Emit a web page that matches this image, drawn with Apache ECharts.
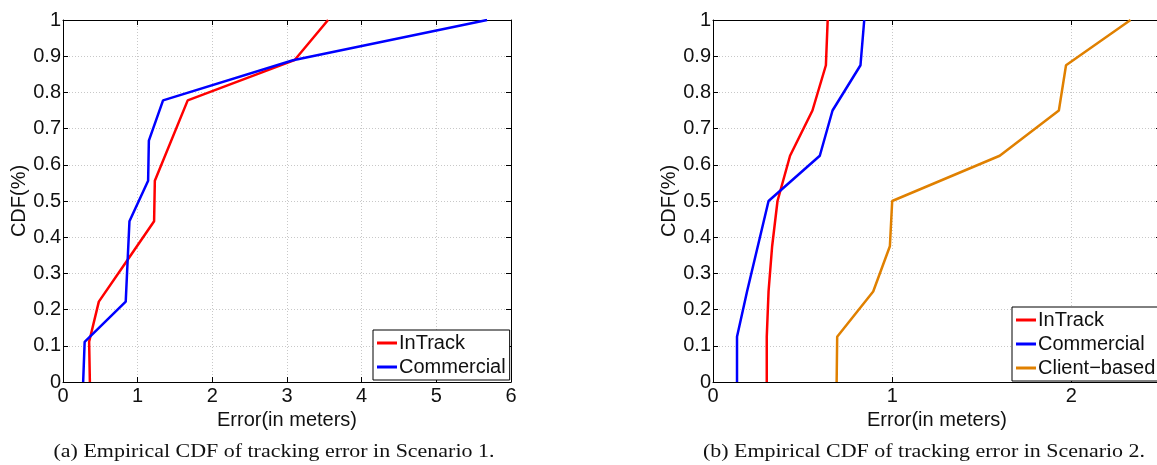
<!DOCTYPE html>
<html>
<head>
<meta charset="utf-8">
<script src="https://cdn.jsdelivr.net/npm/echarts@6/dist/echarts.min.js"></script>
<style>
  html, body { margin: 0; padding: 0; background: #fff; }
  #main { width: 1157px; height: 465px; }
</style>
</head>
<body>
<div id="main"></div>
<script>
// Scenario 1 (9 samples -> steps of 1/9)
const s1InTrackX = [0.36, 0.35, 0.48, 0.85, 1.22, 1.23, 1.67, 3.10, 3.55];
const s1InTrackY = [0, 0.111, 0.222, 0.333, 0.444, 0.556, 0.778, 0.889, 1];
const s1CommercialX = [0.27, 0.29, 0.84, 0.89, 1.14, 1.15, 1.34, 3.08, 5.68];
const s1CommercialY = [0, 0.111, 0.222, 0.444, 0.556, 0.667, 0.778, 0.889, 1];

// Scenario 2 (8 samples -> steps of 1/8)
const s2Y = [0, 0.125, 0.25, 0.375, 0.5, 0.625, 0.75, 0.875, 1];
const s2InTrackX = [0.30, 0.30, 0.31, 0.33, 0.36, 0.43, 0.555, 0.63, 0.64];
const s2CommercialX = [0.134, 0.134, 0.19, 0.25, 0.31, 0.596, 0.667, 0.823, 0.844];
const s2ClientX = [0.69, 0.693, 0.894, 0.987, 1.0, 1.60, 1.93, 1.97, 2.33];

const captions = [
    '(a) Empirical CDF of tracking error in Scenario 1.',
    '(b) Empirical CDF of tracking error in Scenario 2.'
];

const chart = echarts.init(document.querySelector('#main'));

const pairs = (xs, ys) => xs.map((x, i) => [x, ys[i]]);

const font = 'Liberation Sans, Arial, sans-serif';
const serif = 'Liberation Serif, Times New Roman, serif';
const gridLine = { show: true, lineStyle: { color: '#c8c8c8', type: [1, 2], width: 1 } };

function xAx(grid, max, bottom) {
    return {
        type: 'value', gridIndex: grid, min: 0, max: max, interval: 1,
        position: bottom ? 'bottom' : 'top',
        name: bottom ? 'Error(in meters)' : '',
        nameLocation: 'middle', nameGap: 18,
        nameTextStyle: { color: '#111', fontSize: 20, fontFamily: font },
        axisLine: { show: true, onZero: false, lineStyle: { color: '#000', width: 1 } },
        axisTick: { show: true, inside: true, length: 5, lineStyle: { color: '#000' } },
        axisLabel: { show: bottom, color: '#111', fontSize: 20, fontFamily: font, margin: 4,
                     showMaxLabel: max === 6 },
        splitLine: bottom ? gridLine : { show: false }
    };
}

function yAx(grid, left) {
    return {
        type: 'value', gridIndex: grid, min: 0, max: 1, interval: 0.1,
        position: left ? 'left' : 'right',
        name: left ? 'CDF(%)' : '',
        nameLocation: 'middle', nameGap: 32, nameRotate: 90,
        nameTextStyle: { color: '#111', fontSize: 20, fontFamily: font },
        axisLine: { show: true, onZero: false, lineStyle: { color: '#000', width: 1 } },
        axisTick: { show: true, inside: true, length: 5, lineStyle: { color: '#000' } },
        axisLabel: { show: left, color: '#111', fontSize: 20, fontFamily: font, margin: 2 },
        splitLine: left ? gridLine : { show: false }
    };
}

function line(name, data, color, xi, yi) {
    return {
        name: name, type: 'line', data: data, xAxisIndex: xi, yAxisIndex: yi,
        symbol: 'none', color: color, clip: true,
        lineStyle: { color: color, width: 2.5 }
    };
}

function caption(text, cx) {
    return {
        type: 'text', x: cx, y: 452, scaleX: 1.22,
        style: { text: text, fill: '#111', font: '18px ' + serif, textAlign: 'center', textVerticalAlign: 'middle' }
    };
}

const legendBase = {
    orient: 'vertical', backgroundColor: '#fff',
    borderColor: '#000', borderWidth: 1, borderRadius: 0,
    padding: [1, 4, 1, 4], itemGap: 0, itemWidth: 20, itemHeight: 3,
    icon: 'rect',
    textStyle: { color: '#111', fontSize: 20, fontFamily: font, lineHeight: 24, padding: [0, 0, 0, -3] }
};

let option = {
    animation: false,
    backgroundColor: '#fff',
    grid: [
        { left: 63, top: 20, width: 448, height: 362, outerBoundsMode: 'none' },
        { left: 713, top: 20, width: 448, height: 362, outerBoundsMode: 'none' }
    ],
    xAxis: [xAx(0, 6, true), xAx(0, 6, false), xAx(1, 2.5, true), xAx(1, 2.5, false)],
    yAxis: [yAx(0, true), yAx(0, false), yAx(1, true), yAx(1, false)],
    legend: [
        Object.assign({}, legendBase, { left: 373, top: 330, data: ['InTrack', 'Commercial'] }),
        Object.assign({}, legendBase, { left: 1012, top: 307, data: ['InTrack ', 'Commercial ', 'Client\u2212based'] })
    ],
    graphic: [caption(captions[0], 274), caption(captions[1], 924)],
    series: [
        line('InTrack', pairs(s1InTrackX, s1InTrackY), '#ff0000', 0, 0),
        line('Commercial', pairs(s1CommercialX, s1CommercialY), '#0000ff', 0, 0),
        line('InTrack ', pairs(s2InTrackX, s2Y), '#ff0000', 2, 2),
        line('Commercial ', pairs(s2CommercialX, s2Y), '#0000ff', 2, 2),
        line('Client\u2212based', pairs(s2ClientX, s2Y), '#e08000', 2, 2)
    ]
};
chart.setOption(option);
</script>
</body>
</html>
